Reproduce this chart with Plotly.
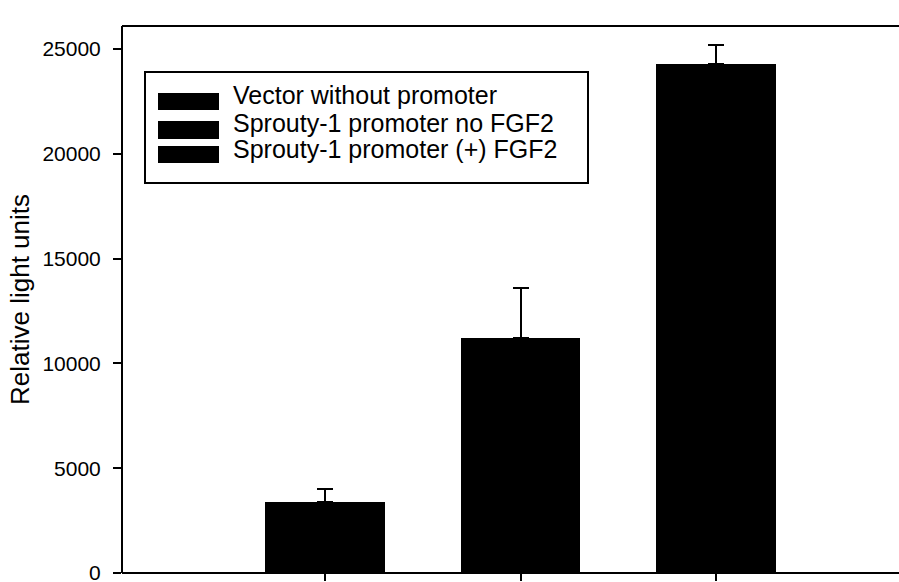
import plotly.graph_objects as go

# Luciferase reporter readings (relative light units) with SEM
series_names = [
    "Vector without promoter",
    "Sprouty-1 promoter no FGF2",
    "Sprouty-1 promoter (+) FGF2",
]
positions = [0, 1, 2]
rlu_means = [3400, 11200, 24300]
rlu_errors = [600, 2400, 900]
y_ticks = [0, 5000, 10000, 15000, 20000, 25000]

FONT = "Arial, Liberation Sans, sans-serif"

# Canvas runs a few pixels past the visible page so the frame stays open on the right
W, H = 905, 582
ML, MR, MT, MB = 122, 0, 26, 9
plot_w = W - ML - MR
plot_h = H - MT - MB
unit_px = 195.5


def px_x(px):
    return (px - ML) / plot_w


def px_y(py):
    return (H - MB - py) / plot_h


fig = go.Figure()
for name, xpos, mean, err in zip(series_names, positions, rlu_means, rlu_errors):
    fig.add_trace(go.Bar(
        x=[xpos], y=[mean], name=name, width=0.61,
        marker=dict(color="black", line=dict(width=0)),
        error_y=dict(type="data", array=[err], arrayminus=[0], symmetric=False,
                     color="black", thickness=2, width=8),
        showlegend=False,
    ))

# Frame: left, bottom and top lines
frame = dict(type="line", xref="paper", yref="paper", line=dict(color="black", width=2),
             layer="above")
shapes = [
    dict(frame, x0=0, x1=1, y0=1, y1=1),
    dict(frame, x0=0, x1=1, y0=0, y1=0),
    dict(frame, x0=0, x1=0, y0=0, y1=1),
]

# Legend box drawn by hand with wide swatches
shapes.append(dict(type="rect", xref="paper", yref="paper",
                   x0=px_x(145), x1=px_x(588), y0=px_y(183), y1=px_y(72),
                   line=dict(color="black", width=2), fillcolor="white", layer="above"))
annotations = []
swatch_rows = [(93, 110), (121, 139), (146, 163)]
text_centers = [95, 123, 149]
for name, (top, bot), tc in zip(series_names, swatch_rows, text_centers):
    shapes.append(dict(type="rect", xref="paper", yref="paper",
                       x0=px_x(158), x1=px_x(219), y0=px_y(bot), y1=px_y(top),
                       line=dict(width=0), fillcolor="black", layer="above"))
    annotations.append(dict(text=name, xref="paper", yref="paper",
                            x=px_x(231), y=px_y(tc), xanchor="left", yanchor="middle",
                            showarrow=False,
                            font=dict(family=FONT, size=25, color="black")))

x_left = -(325 - ML) / unit_px
x_right = x_left + plot_w / unit_px

fig.update_layout(
    width=W, height=H, showlegend=False,
    margin=dict(l=ML, r=MR, t=MT, b=MB, pad=0, autoexpand=False),
    paper_bgcolor="white", plot_bgcolor="white",
    shapes=shapes, annotations=annotations,
    bargap=0,
    xaxis=dict(range=[x_left, x_right], tickvals=positions, ticktext=["", "", ""],
               ticks="outside", ticklen=7, tickwidth=2, tickcolor="black",
               showline=False, automargin=False,
               showgrid=False, zeroline=False),
    yaxis=dict(range=[0, 26100], tickvals=y_ticks,
               ticktext=[str(v) for v in y_ticks],
               ticks="outside", ticklen=8, tickwidth=2, tickcolor="black",
               showline=False, automargin=False,
               showgrid=False, zeroline=False,
               ticklabeloverflow="allow", ticklabelstandoff=8,
               tickfont=dict(family=FONT, size=21, color="black"),
               title=dict(text="Relative light units", standoff=5,
                          font=dict(family=FONT, size=26, color="black"))),
)

fig.write_html("out.html", config={"staticPlot": True, "displayModeBar": False})
